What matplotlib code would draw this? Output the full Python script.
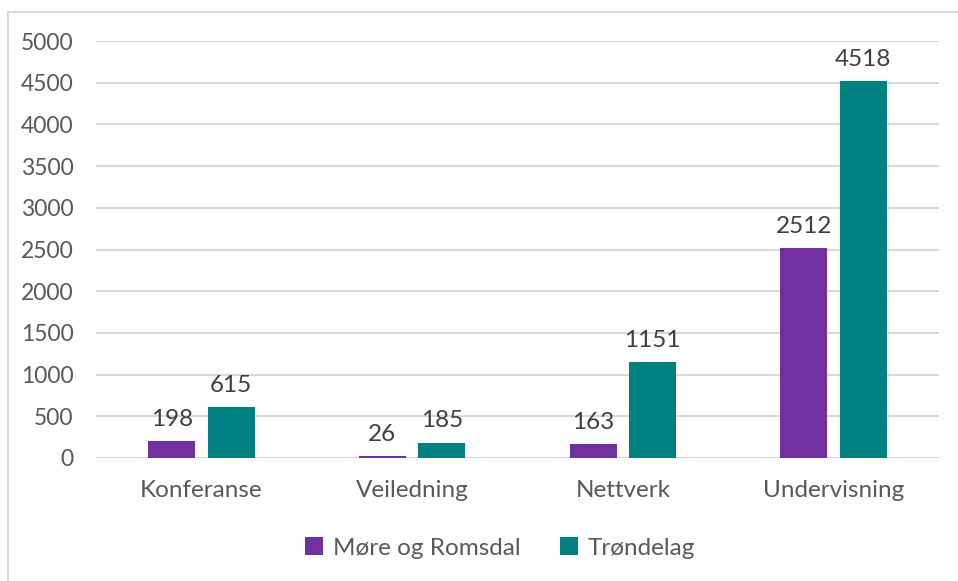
import matplotlib.pyplot as plt
import numpy as np
from matplotlib.patches import Rectangle

categories = ["Konferanse", "Veiledning", "Nettverk", "Undervisning"]
more = [198, 26, 163, 2512]
trond = [615, 185, 1151, 4518]
series_names = ["Møre og Romsdal", "Trøndelag"]
yticks = [0, 500, 1000, 1500, 2000, 2500, 3000, 3500, 4000, 4500, 5000]

purple = "#7030A0"
teal = "#008080"
txt = "#595959"

plt.rcParams['font.family'] = ['Lato', 'DejaVu Sans']

fig = plt.figure(figsize=(9.58, 5.81), dpi=100)
# chart frame, only left and top edges fall inside the picture
fig.patches.append(Rectangle((8/958, -20/581), 980/958, 589/581, transform=fig.transFigure,
                             fill=False, edgecolor="#d9d9d9", lw=1.5))
ax = fig.add_axes([96/958, 1 - 458/581, 843/958, 417/581])

x = np.arange(len(categories))
w = 0.223
off = 0.141
b1 = ax.bar(x - off, more, w, color=purple, label=series_names[0])
b2 = ax.bar(x + off, trond, w, color=teal, label=series_names[1])

for bars, vals in ((b1, more), (b2, trond)):
    for b, v in zip(bars, vals):
        ax.annotate(str(v), (b.get_x() + b.get_width() / 2, v), xytext=(0, 8),
                    textcoords="offset points", ha="center", va="bottom",
                    fontsize=17.5, color="#404040")

ax.set_xlim(-0.5, 3.5)
ax.set_ylim(0, 5000)
ax.set_yticks(yticks)
ax.set_xticks(x)
ax.set_xticklabels(categories)
ax.yaxis.grid(True, color="#d9d9d9", lw=1.5)
ax.set_axisbelow(True)
for s in ax.spines.values():
    s.set_visible(False)
ax.tick_params(length=0, labelsize=16.5, colors=txt)
ax.tick_params(axis="x", pad=16, labelsize=17.5)
ax.tick_params(axis="y", pad=16)

fig.legend(loc="center", bbox_to_anchor=(500/958, 1 - 548/581), ncol=2, frameon=False,
           fontsize=17.5, handlelength=0.75, handleheight=0.75, handletextpad=0.4,
           columnspacing=1.6, labelcolor=txt)

fig.savefig("out.png", dpi=100)
